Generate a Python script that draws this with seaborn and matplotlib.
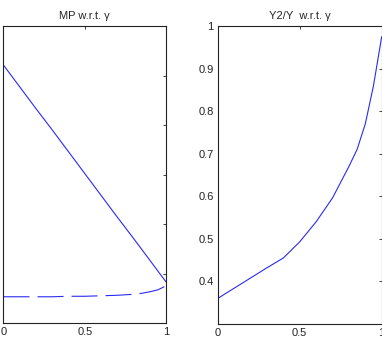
import matplotlib
matplotlib.use("Agg")
import matplotlib.pyplot as plt
import seaborn as sns

# gamma grid
gamma = [0.0, 0.1, 0.2, 0.3, 0.4, 0.5, 0.6, 0.7, 0.8, 0.85, 0.9, 0.95, 1.0]

# MP w.r.t. gamma (two curves)
mp_solid = [0.721, 0.677, 0.633, 0.590, 0.546, 0.502, 0.458, 0.414, 0.371, 0.349, 0.327, 0.305, 0.283]
mp_dashed = [0.253, 0.253, 0.253, 0.253, 0.254, 0.254, 0.255, 0.256, 0.258, 0.260, 0.263, 0.267, 0.275]

# Y2/Y w.r.t. gamma
y2_share = [0.36, 0.384, 0.408, 0.432, 0.455, 0.493, 0.54, 0.596, 0.67, 0.71, 0.77, 0.86, 0.975]

sns.set_style("white")
plt.rcParams['font.family'] = ['Liberation Sans', 'DejaVu Sans']
plt.rcParams['lines.scale_dashes'] = False

W, H = 382, 339
fig = plt.figure(figsize=(W / 100, H / 100), dpi=100)
ax1 = fig.add_axes([3.5 / W, 16 / H, 162.5 / W, 297 / H])
ax2 = fig.add_axes([217.7 / W, 15 / H, 164 / W, 298 / H])

line_col = '#2b2bf0'
sns.lineplot(x=gamma, y=mp_solid, ax=ax1, color=line_col, linewidth=0.8)
sns.lineplot(x=gamma, y=mp_dashed, ax=ax1, color=line_col, linewidth=0.8,
             linestyle=(0, (18.7, 5.8)))
sns.lineplot(x=gamma, y=y2_share, ax=ax2, color=line_col, linewidth=0.8)

ax1.set_xlim(0, 1)
ax1.set_ylim(0.2, 0.8)
ax1.set_xticks([0, 0.5, 1])
ax1.set_xticklabels(['0', '0.5', '1'])
ax1.set_yticks([0.3, 0.4, 0.5, 0.6, 0.7])
ax1.set_yticklabels([])
ax1.set_title('MP w.r.t. γ', fontsize=8, pad=5)

ax2.set_xlim(0, 1)
ax2.set_ylim(0.3, 1)
ax2.set_xticks([0, 0.5, 1])
ax2.set_xticklabels(['0', '0.5', '1'])
ax2.set_yticks([0.4, 0.5, 0.6, 0.7, 0.8, 0.9, 1.0])
ax2.set_yticklabels(['0.4', '0.5', '0.6', '0.7', '0.8', '0.9', '1'])
ax2.set_title('Y2/Y  w.r.t. γ', fontsize=8, pad=5)

for ax in (ax1, ax2):
    ax.set_xlabel('')
    ax.set_ylabel('')
    ax.tick_params(direction='in', length=2.5, width=0.6, top=True, right=True,
                   labelsize=8, colors='#222222', pad=3)
    for s in ax.spines.values():
        s.set_visible(True)
        s.set_color('#222222')
        s.set_linewidth(0.8)

fig.savefig('out.png', dpi=100)
